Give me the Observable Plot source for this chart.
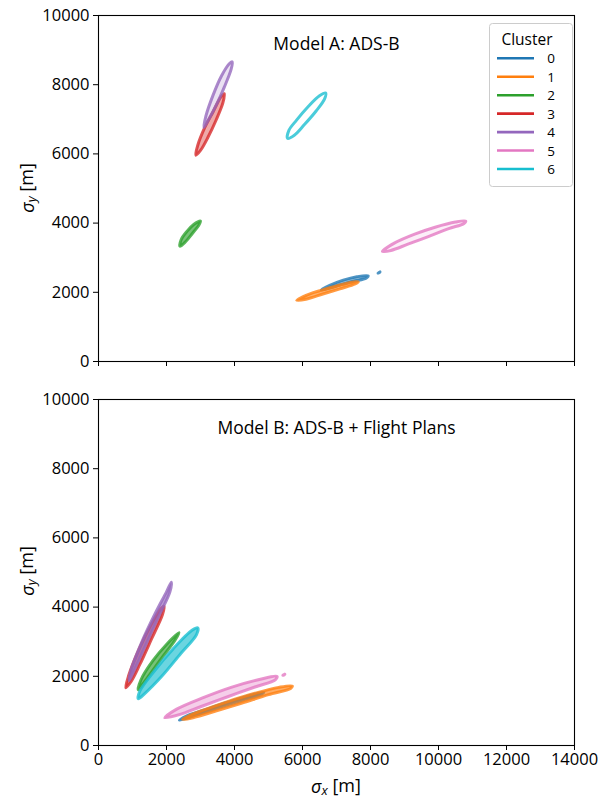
<!DOCTYPE html>
<html><head><meta charset="utf-8">
<script src="https://cdn.jsdelivr.net/npm/d3@7"></script>
<script src="https://cdn.jsdelivr.net/npm/@observablehq/plot@0.6"></script>
<style>
body{margin:0;background:#fff;}
#chart{width:609px;}
#chart svg{display:block;}
</style></head><body><div id="chart"></div>
<script>
const clusters = [0,1,2,3,4,5,6];
const clusterColors = ["#1f77b4","#ff7f0e","#2ca02c","#d62728","#9467bd","#e377c2","#17becf"];
const xTicks = [0,2000,4000,6000,8000,10000,12000,14000];
const yTicks = [0,2000,4000,6000,8000,10000];
const panelTitles = ["Model A: ADS-B","Model B: ADS-B + Flight Plans"];
const legendTitle = "Cluster";

// Model A: closed loops of (sigma_x, sigma_y) per cluster
const a0 = [[6550,2070],[6800,2200],[7200,2350],[7600,2450],[7930,2480],[7870,2410],[7500,2320],[7100,2210],[6750,2110]];
const a0dot = [[8220,2555],[8280,2590],[8250,2565]];
const a1 = [[5830,1770],[6200,1950],[6600,2070],[7100,2210],[7500,2300],[7640,2300],[7550,2240],[7100,2100],[6600,1950],[6100,1800]];
const a2 = [[2400,3330],[2430,3520],[2600,3760],[2800,3960],[3000,4060],[2950,3940],[2760,3700],[2560,3460]];
const a3 = [[2860,5960],[2920,6250],[3120,6750],[3370,7220],[3600,7650],[3700,7740],[3660,7480],[3460,6980],[3220,6480],[3000,6100]];
const a4 = [[3100,6770],[3160,7100],[3370,7700],[3620,8260],[3860,8620],[3935,8660],[3900,8440],[3700,7930],[3450,7380],[3220,6960]];
const a5 = [[8350,3180],[8700,3420],[9300,3680],[9900,3880],[10500,4030],[10800,4060],[10750,3990],[10300,3840],[9700,3610],[9100,3390],[8600,3210]];
const a6 = [[5560,6450],[5600,6680],[5820,6970],[6170,7370],[6500,7680],[6680,7760],[6650,7590],[6400,7240],[6050,6840],[5760,6540]];

// Model B
const b0 = [[2380,730],[2600,860],[3000,990],[3800,1250],[4500,1460],[4860,1540],[4800,1480],[4200,1300],[3400,1050],[2700,820]];
const b1 = [[2470,750],[2700,880],[3100,1030],[3800,1270],[4600,1510],[5300,1680],[5700,1720],[5650,1650],[5000,1470],[4200,1220],[3400,980],[2800,810]];
const b2 = [[1170,1610],[1250,1900],[1600,2450],[2000,2920],[2370,3260],[2250,3040],[1900,2580],[1500,2040],[1260,1720]];
const b3 = [[800,1670],[880,2000],[1200,2800],[1550,3500],[1850,3970],[1930,4020],[1880,3780],[1560,3080],[1220,2350],[960,1850]];
const b4 = [[900,1880],[960,2200],[1260,2960],[1660,3800],[2000,4440],[2140,4720],[2100,4440],[1800,3790],[1450,3040],[1110,2300]];
const b5 = [[1950,800],[2300,1050],[3100,1390],[3900,1680],[4700,1900],[5250,2000],[5200,1900],[4600,1690],[3800,1410],[3000,1120],[2400,900]];
const b5dot = [[5420,2030],[5480,2060],[5460,2040]];
const b6 = [[1170,1350],[1210,1560],[1600,2100],[2200,2800],[2750,3330],[2920,3400],[2880,3200],[2420,2660],[1860,2000],[1360,1500]];

const loopsA = [[0,"a0",a0],[0,"a0d",a0dot],[1,"a1",a1],[2,"a2",a2],[3,"a3",a3],[4,"a4",a4],[5,"a5",a5],[6,"a6",a6]];
const loopsB = [[0,"b0",b0],[1,"b1",b1],[2,"b2",b2],[3,"b3",b3],[4,"b4",b4],[5,"b5",b5],[5,"b5d",b5dot],[6,"b6",b6]];

// how densely each loop appears filled (style, not data)
const loopFill = {a0:0.6,a0d:0.6,a1:0.75,a2:0.8,a3:0.5,a4:0.25,a5:0.15,a6:0,
                  b0:0.7,b1:0.8,b2:0.8,b3:0.7,b4:0.8,b5:0.45,b5d:0.6,b6:0.8};

const FONT = "'Open Sans', 'Noto Sans', sans-serif";
const FS = 16.5;

function loopMarks(loops) {
  return loops.map(([cluster, id, pts]) =>
    Plot.line(pts, {x: d => d[0], y: d => d[1], stroke: clusterColors[cluster], fill: clusterColors[cluster],
      fillOpacity: loopFill[id] * 0.8, strokeWidth: 3, strokeOpacity: 0.78, curve: "catmull-rom-closed"}));
}

function panel(loops, title, opts) {
  return Plot.plot({
    width: 609, height: opts.height,
    marginLeft: 98, marginRight: 35, marginTop: opts.mt, marginBottom: opts.mb,
    style: {fontFamily: FONT, fontSize: FS + "px", color: "black", background: "white"},
    x: {domain: [0, 14000]},
    y: {domain: [0, 10000]},
    marks: [
      ...loopMarks(loops),
      Plot.frame({stroke: "black", strokeWidth: 1.1}),
      Plot.axisX({ticks: xTicks, tickSize: 5, tickPadding: 3, label: null, tickFormat: opts.xlabels ? (d => String(d)) : (() => ""), fontSize: FS}),
      Plot.axisY({ticks: yTicks, tickSize: 5, tickPadding: 4, label: null, tickFormat: d => String(d), fontSize: FS}),
      Plot.text([title], {text: d => d, frameAnchor: "top", dy: 29, lineAnchor: "middle", fontSize: 17.5})
    ]
  });
}

function sigmaLabel(svg, sub, x, y, rotate) {
  const t = svg.append("text")
    .attr("transform", `translate(${x},${y})` + (rotate ? " rotate(-90)" : ""))
    .attr("text-anchor", "middle")
    .attr("dominant-baseline", "central")
    .style("font-family", FONT).style("font-size", "18px").attr("fill", "black");
  t.append("tspan").text("σ").style("font-style", "italic");
  t.append("tspan").text(sub).style("font-style", "italic").style("font-size", "13px").attr("dy", "0.3em");
  t.append("tspan").text(" [m]").attr("dy", "-0.3em");
}

const svgA = panel(loopsA, panelTitles[0], {height: 380, mt: 15, mb: 19, xlabels: false});
const svgB = panel(loopsB, panelTitles[1], {height: 418, mt: 19, mb: 53, xlabels: true});

const selA = d3.select(svgA), selB = d3.select(svgB);
sigmaLabel(selA, "y", 27, 188, true);
sigmaLabel(selB, "y", 27, 191, true);
sigmaLabel(selB, "x", 336, 406, false);

// legend
const lg = selA.append("g").style("font-family", FONT);
lg.append("rect").attr("x", 489.5).attr("y", 23.5).attr("width", 83).attr("height", 163).attr("rx", 3)
  .attr("fill", "white").attr("fill-opacity", 0.8).attr("stroke", "#cccccc");
lg.append("text").attr("x", 527).attr("y", 38.5).attr("text-anchor", "middle").attr("dominant-baseline", "central")
  .style("font-size", "15.5px").attr("fill", "black").text(legendTitle);
clusters.forEach((c, i) => {
  const yy = 58.3 + i * 18.45;
  lg.append("line").attr("x1", 497).attr("x2", 534).attr("y1", yy).attr("y2", yy).attr("stroke", clusterColors[i]).attr("stroke-width", 2.6);
  lg.append("text").attr("x", 551).attr("y", yy).attr("text-anchor", "middle").attr("dominant-baseline", "central")
    .style("font-size", "13.5px").attr("fill", "black").text(String(c));
});

document.getElementById("chart").append(svgA, svgB);
</script></body></html>
